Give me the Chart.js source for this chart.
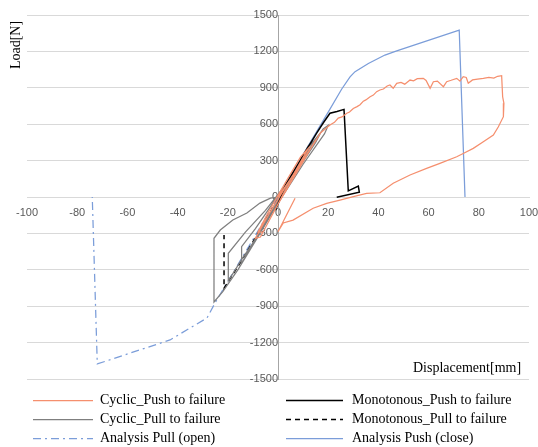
<!DOCTYPE html>
<html>
<head>
<meta charset="utf-8">
<script src="https://cdn.jsdelivr.net/npm/chart.js@4/dist/chart.umd.min.js"></script>
<style>
  html, body { margin: 0; padding: 0; background: #fff; }
  #wrap { width: 538px; height: 447px; }
</style>
</head>
<body>
<div id="wrap"><canvas id="grafico" width="538" height="447"></canvas></div>
<script>
// Series (displacement [mm], load [N])
const cyclicPushX = [0, 6, 12, 9, 3, -4, -8, -6, 0, 8, 15, 13, 5, -3, -9, -7, 2, 10, 17, 20.7, 22.5, 24, 25.5, 27.4, 28.5, 30, 31.5, 32.7, 34, 35, 36.7, 38, 39.3, 40.6, 42, 43.5, 44.6, 45.9, 47.3, 49, 50.5, 52.6, 54, 55.5, 57.9, 59, 60.6, 61.9, 63.5, 65.9, 67.2, 69, 71.2, 72.5, 73.8, 75, 75.8, 77.5, 79.5, 81.8, 84, 86, 87.5, 89.1, 89.5, 90, 89.8, 87.8, 85.8, 81.8, 77.8, 73.8, 71.2, 64.5, 59.2, 52.6, 45.9, 40.6, 35.3, 30, 24.7, 19.4, 14, 6, 2.1, 0, 6.8];
const cyclicPushY = [0, 180, 400, 330, 120, -130, -290, -290, -60, 220, 470, 400, 150, -120, -340, -330, 20, 300, 530, 593, 615, 650, 660, 690, 700, 730, 745, 760, 790, 800, 826, 840, 868, 882, 890, 915, 923, 896, 937, 945, 930, 964, 958, 975, 978, 960, 896, 950, 955, 909, 950, 962, 978, 955, 992, 985, 937, 965, 972, 978, 985, 980, 995, 1000, 826, 772, 662, 579, 511, 456, 401, 359, 332, 277, 236, 181, 113, 35, 30, 3, -25, -52, -93, -190, -214, -286, -10];

const monoPushX = [-1, 3, 8, 12, 15.4, 18, 20.7, 23.5, 26.3, 28, 32, 32.4, 23.4];
const monoPushY = [-110, 100, 270, 410, 527, 610, 690, 705, 722, 50, 90, 40, -2];

const cyclicPullX = [0, 6, 12, 13, 10, 3, -4, -10, -14.5, -14.5, -9, -3, 4, 11, 17, 15, 8, 0, -7, -14, -19.8, -19.8, -13, -5, 3, 12, 18, 20, 18.5, 10, 0, -8, -16, -22, -25.5, -25.5, -23, -18, -12.4, -7.2, -3, 0];
const cyclicPullY = [0, 200, 420, 440, 330, 90, -160, -380, -546, -410, -260, -80, 130, 380, 530, 450, 230, -30, -290, -500, -690, -464, -290, -110, 100, 380, 560, 590, 520, 270, -50, -330, -600, -780, -865, -340, -272, -190, -132, -50, -10, 0];

const monoPullX = [0, -5, -10, -15, -21.5, -21.5];
const monoPullY = [-20, -190, -370, -540, -752, -313];

const analysisPullX = [0, -10, -25, -28.3, -43, -72, -74];
const analysisPullY = [0, -350, -870, -997, -1178, -1376, 0];

const analysisPushX = [0, 10, 20, 25.4, 28.7, 30.7, 36, 42.6, 47.3, 72.2, 74.5];
const analysisPushY = [0, 350, 700, 890, 990, 1033, 1100, 1170, 1205, 1376, 0];

const etiquetas = ['Cyclic_Push to failure', 'Monotonous_Push to failure', 'Cyclic_Pull to failure',
                   'Monotonous_Pull to failure', 'Analysis Pull (open)', 'Analysis Push (close)'];

function puntos(xs, ys) {
    return xs.map((x, i) => ({ x: x, y: ys[i] }));
}

function serie(label, xs, ys, color, width, dash) {
    return {
        label: label,
        data: puntos(xs, ys),
        borderColor: color,
        backgroundColor: color,
        borderWidth: width,
        borderDash: dash,
        showLine: true,
        pointRadius: 0,
        tension: 0
    };
}

// Los ejes centrados no deben reservar margen propio
function sinRelleno(scale) {
    scale.paddingLeft = 0;
    scale.paddingRight = 0;
    scale.paddingTop = 0;
    scale.paddingBottom = 0;
}

// Títulos de ejes y leyenda dibujados a mano
const extras = {
    id: 'extras',
    afterDraw(chart) {
        const ctx = chart.ctx;
        ctx.save();
        ctx.fillStyle = '#000';
        ctx.font = '14px "Liberation Serif"';
        ctx.textBaseline = 'middle';
        ctx.textAlign = 'left';
        ctx.fillText('Displacement[mm]', 413, 368);

        ctx.save();
        ctx.translate(16, 45);
        ctx.rotate(-Math.PI / 2);
        ctx.textAlign = 'center';
        ctx.fillText('Load[N]', 0, 0);
        ctx.restore();

        const filas = [400, 419, 438];
        const lineaX = [[33, 93], [286, 343]];
        const textoX = [100, 352];
        chart.data.datasets.forEach((ds, i) => {
            const col = i % 2, fila = Math.floor(i / 2);
            const y = filas[fila] + 0.5;
            ctx.beginPath();
            ctx.strokeStyle = ds.borderColor;
            ctx.lineWidth = ds.borderWidth;
            ctx.setLineDash(ds.borderDash || []);
            ctx.moveTo(lineaX[col][0], y);
            ctx.lineTo(lineaX[col][1], y);
            ctx.stroke();
            ctx.setLineDash([]);
            ctx.fillStyle = '#000';
            ctx.textAlign = 'left';
            ctx.fillText(ds.label, textoX[col], filas[fila]);
        });
        ctx.restore();
    }
};

const tickFont = { family: '"Liberation Sans"', size: 11 };

new Chart(document.getElementById('grafico'), {
    type: 'scatter',
    data: {
        datasets: [
            serie(etiquetas[0], cyclicPushX, cyclicPushY, '#F58F6E', 1.25, []),
            serie(etiquetas[1], monoPushX, monoPushY, '#000000', 1.5, []),
            serie(etiquetas[2], cyclicPullX, cyclicPullY, '#7F7F7F', 1.25, []),
            serie(etiquetas[3], monoPullX, monoPullY, '#000000', 1.5, [5, 4]),
            serie(etiquetas[4], analysisPullX, analysisPullY, '#7B9DD9', 1.25, [8, 4, 2, 4]),
            serie(etiquetas[5], analysisPushX, analysisPushY, '#7B9DD9', 1.25, [])
        ]
    },
    options: {
        responsive: false,
        animation: false,
        layout: { padding: { left: 27, right: 9, top: 15, bottom: 68 } },
        plugins: {
            legend: { display: false },
            tooltip: { enabled: false }
        },
        scales: {
            x: {
                type: 'linear',
                min: -100,
                max: 100,
                position: { y: 0 },
                afterFit: sinRelleno,
                ticks: { stepSize: 20, font: tickFont, color: '#595959', padding: 9, maxRotation: 0,
                         callback: v => String(v) },
                grid: { display: false, drawTicks: false },
                border: { color: '#D9D9D9' }
            },
            y: {
                type: 'linear',
                min: -1500,
                max: 1500,
                position: { x: 0 },
                afterFit: sinRelleno,
                ticks: { stepSize: 300, font: tickFont, color: '#595959', padding: 10,
                         callback: v => String(v) },
                grid: { color: '#D9D9D9', drawTicks: false },
                border: { color: '#A6A6A6' }
            }
        }
    },
    plugins: [extras]
});
</script>
</body>
</html>
